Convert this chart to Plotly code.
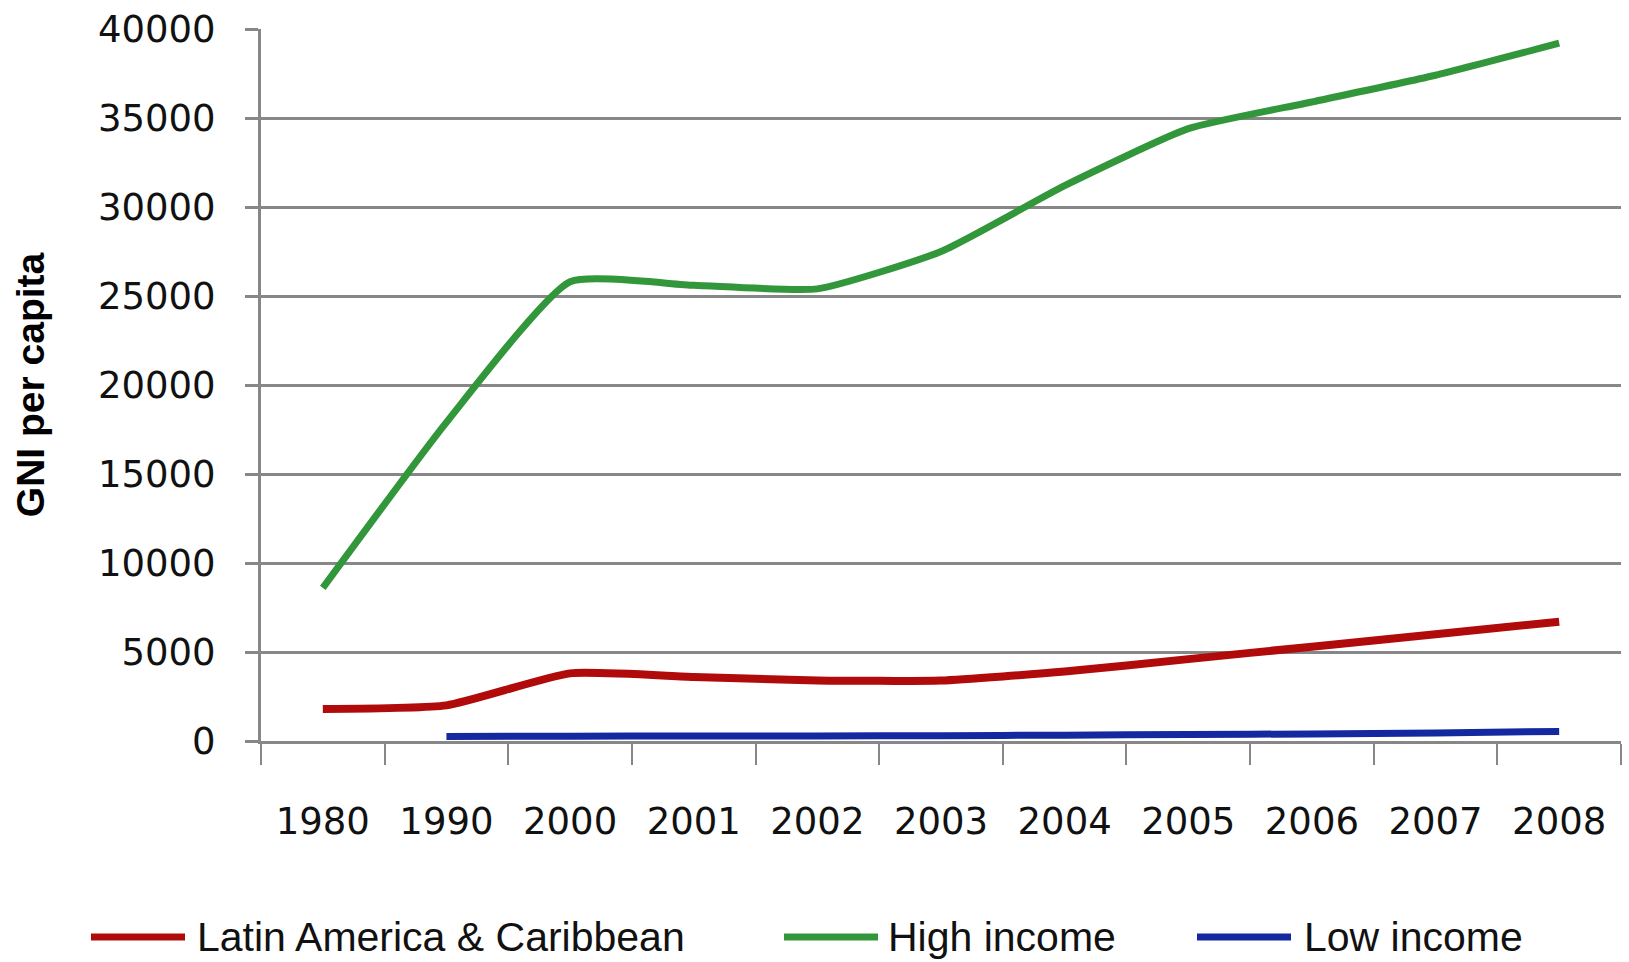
import plotly.graph_objects as go

years = ["1980", "1990", "2000", "2001", "2002", "2003", "2004", "2005", "2006", "2007", "2008"]
latin_america = [1800, 2000, 3800, 3600, 3400, 3400, 3900, 4600, 5300, 6000, 6700]
high_income = [8600, 17900, 25800, 25600, 25400, 27500, 31200, 34400, 35900, 37400, 39200]
low_income = [None, 250, 270, 280, 280, 300, 330, 360, 400, 450, 540]
y_ticks = [0, 5000, 10000, 15000, 20000, 25000, 30000, 35000, 40000]

series_names = ["Latin America & Caribbean", "High income", "Low income"]
colors = ["#B00A0A", "#32963A", "#1428A0"]

fig = go.Figure()
for name, vals, col, w in zip(series_names, [latin_america, high_income, low_income], colors, [8, 7, 7]):
    fig.add_trace(go.Scatter(
        x=years, y=vals, name=name, mode="lines",
        line=dict(color=col, width=w, shape="spline", smoothing=0.5),
        connectgaps=False, showlegend=False,
    ))

grid = "#878787"
fig.update_layout(
    width=1629, height=962,
    margin=dict(l=261, r=8, t=25, b=221),
    paper_bgcolor="white", plot_bgcolor="white",
    font=dict(family="DejaVu Sans", size=37, color="#111111"),
    xaxis=dict(
        type="category", range=[-0.5, 10.5],
        showline=True, linecolor=grid, linewidth=3,
        ticks="outside", ticklen=21, tickwidth=2, tickcolor=grid,
        tickson="boundaries", showgrid=False, ticklabelstandoff=46,
        tickfont=dict(family="DejaVu Sans", size=37, color="#111111"),
    ),
    yaxis=dict(
        range=[0, 40000], tickvals=y_ticks, ticktext=[str(v) for v in y_ticks],
        showline=True, linecolor=grid, linewidth=3,
        ticks="outside", ticklen=13, tickwidth=3, tickcolor=grid,
        showgrid=True, gridcolor=grid, gridwidth=3, zeroline=False,
        ticklabelstandoff=22,
        tickfont=dict(family="DejaVu Sans", size=37, color="#111111"),
        title=dict(text="GNI per capita", standoff=42,
                   font=dict(family="Liberation Sans", size=39, color="#000000", weight="bold")),
    ),
)

# custom legend with long line swatches
legend_y = (741 - 938) / 716
swatches = [(91, 185, 195), (784, 878, 886), (1197, 1291, 1302)]
plot_l, plot_w = 261, 1629 - 261 - 8
for (x0, x1, tx), name, col in zip(swatches, series_names, colors):
    fig.add_shape(type="line", xref="paper", yref="paper",
                  x0=(x0 - plot_l) / plot_w, x1=(x1 - plot_l) / plot_w,
                  y0=legend_y, y1=legend_y,
                  line=dict(color=col, width=7))
    fig.add_annotation(xref="paper", yref="paper", x=(tx - plot_l) / plot_w, y=legend_y,
                       text=name, showarrow=False, xanchor="left", yanchor="middle",
                       font=dict(family="Liberation Sans", size=41, color="#111111"))

fig.write_html("out.html")
